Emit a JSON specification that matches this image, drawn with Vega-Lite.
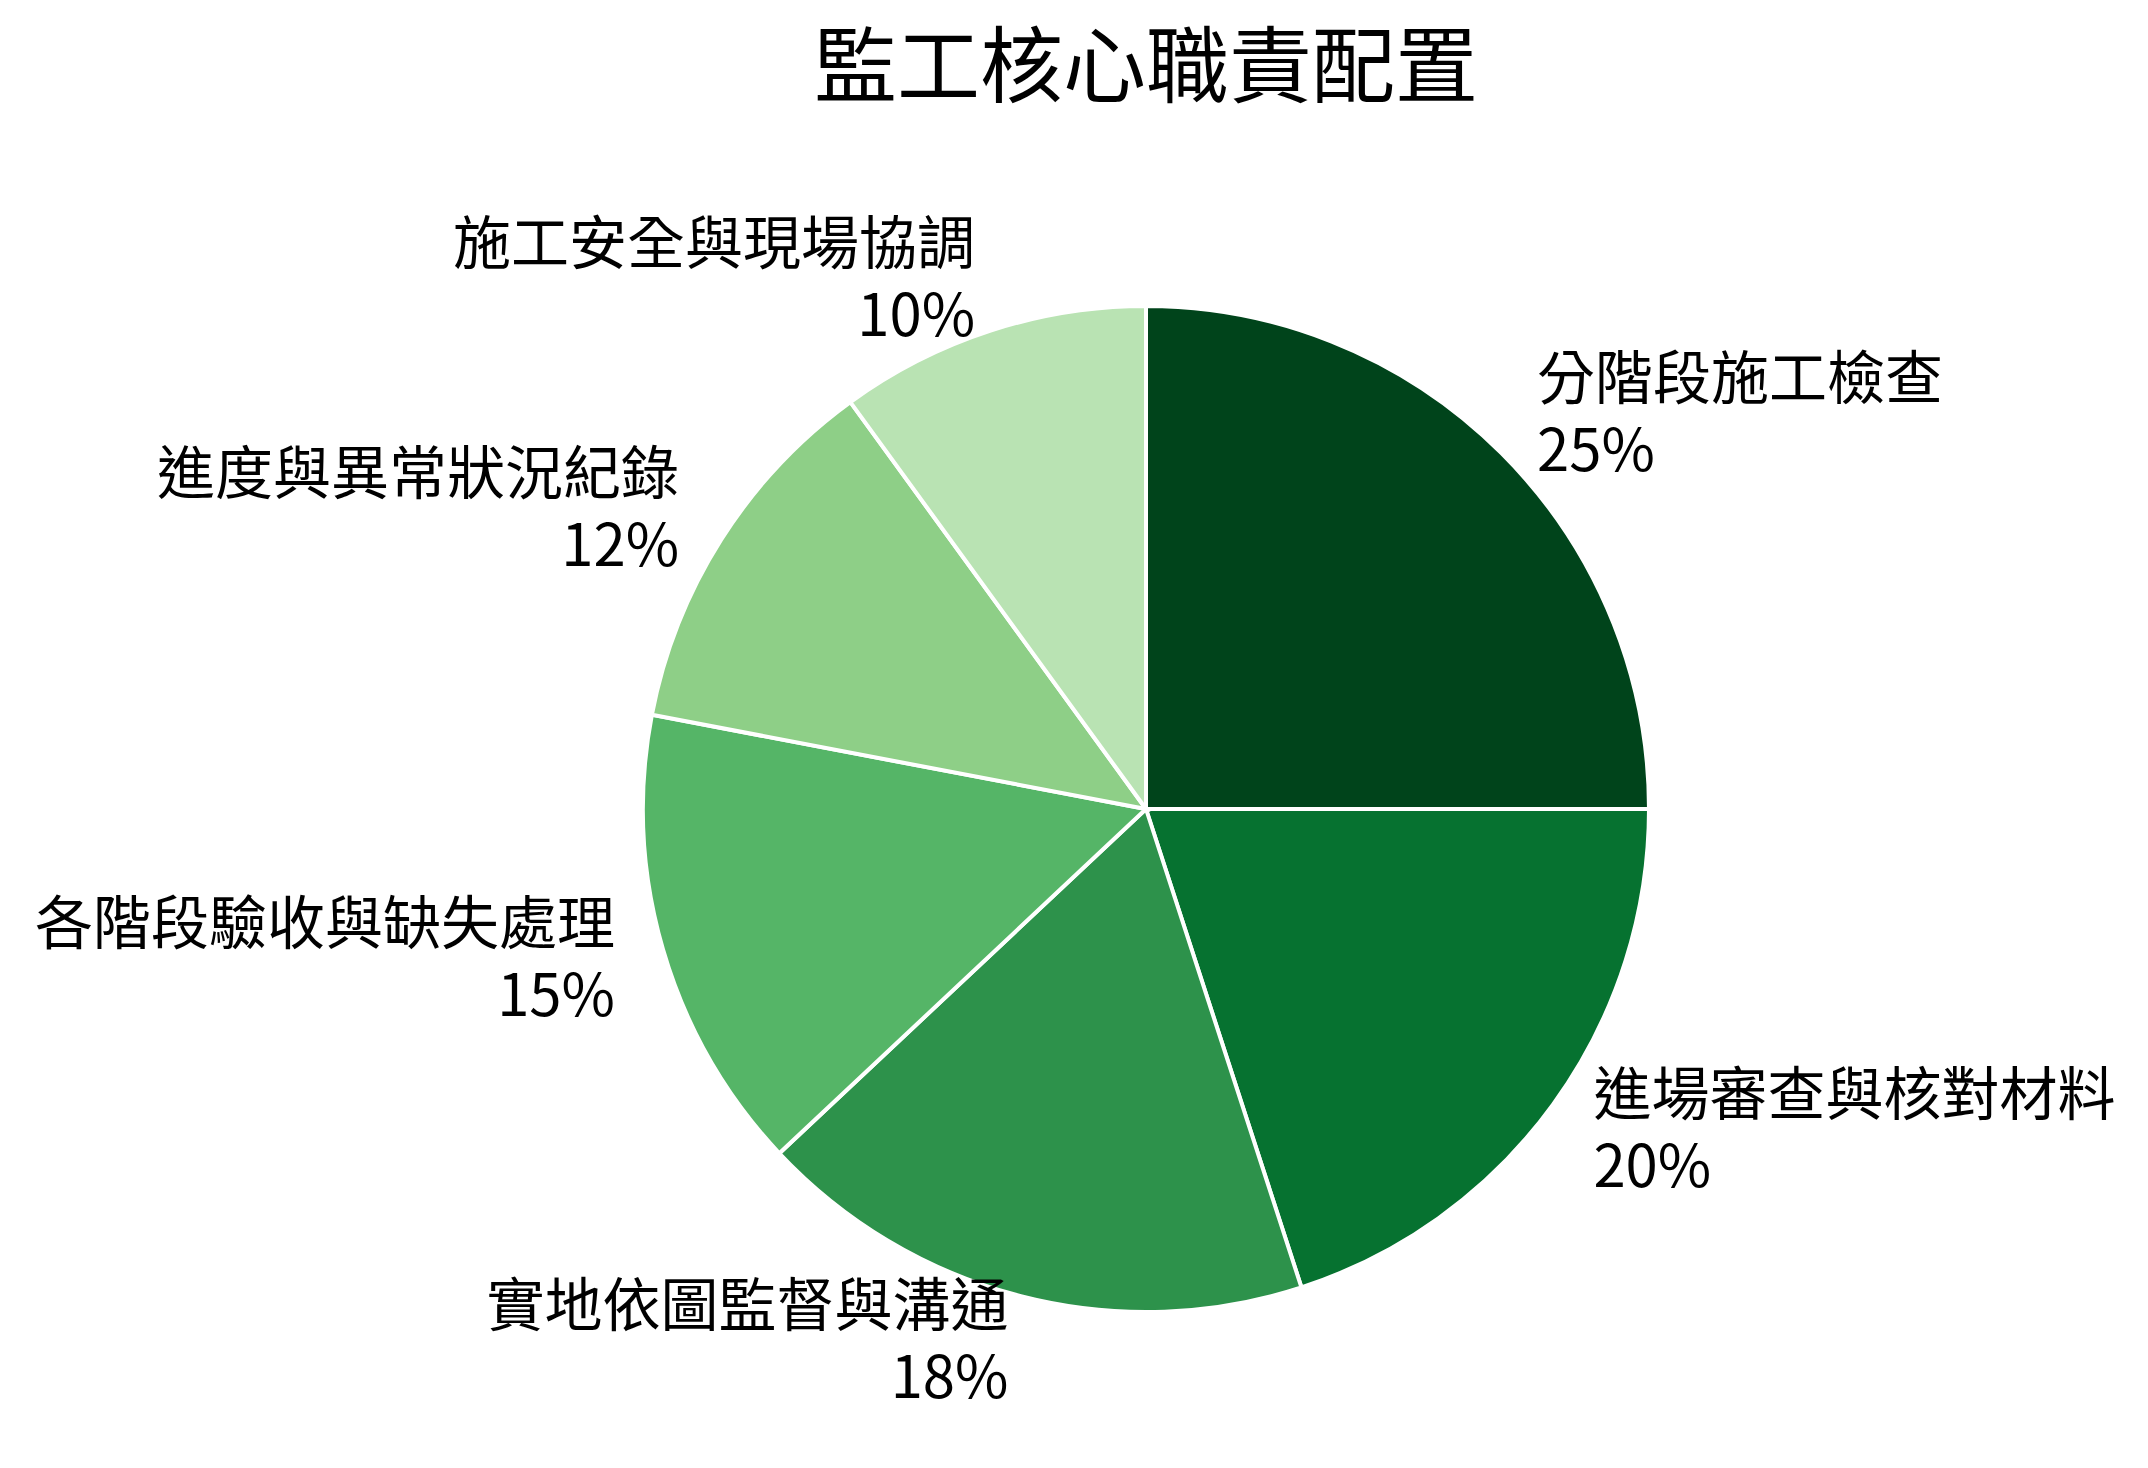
{
  "$schema": "https://vega.github.io/schema/vega-lite/v6.json",
  "width": 1994,
  "height": 1100,
  "autosize": {"type": "none"},
  "padding": {"left": 149, "top": 259, "right": 5, "bottom": 109},
  "background": "white",
  "title": {
    "text": "監工核心職責配置",
    "font": "Noto Sans CJK TC",
    "fontSize": 83,
    "fontWeight": "normal",
    "color": "black",
    "anchor": "middle",
    "frame": "group",
    "offset": 105
  },
  "data": {
    "values": [
      {"rank": 1, "task": "分階段施工檢查", "pct": 25},
      {"rank": 2, "task": "進場審查與核對材料", "pct": 20},
      {"rank": 3, "task": "實地依圖監督與溝通", "pct": 18},
      {"rank": 4, "task": "各階段驗收與缺失處理", "pct": 15},
      {"rank": 5, "task": "進度與異常狀況紀錄", "pct": 12},
      {"rank": 6, "task": "施工安全與現場協調", "pct": 10}
    ]
  },
  "transform": [
    {"stack": "pct", "groupby": [], "sort": [{"field": "rank"}], "as": ["t0", "t1"]},
    {"calculate": "(datum.t0 + datum.t1) / 2", "as": "mid"},
    {"calculate": "datum.task + '\\n' + datum.pct + '%'", "as": "label"}
  ],
  "layer": [
    {
      "mark": {"type": "arc", "radius": 503, "stroke": "white", "strokeWidth": 4},
      "encoding": {
        "theta": {"field": "t0", "type": "quantitative", "scale": {"domain": [0, 100]}, "stack": null},
        "theta2": {"field": "t1"},
        "color": {
          "field": "task",
          "type": "nominal",
          "legend": null,
          "scale": {
            "domain": ["分階段施工檢查", "進場審查與核對材料", "實地依圖監督與溝通", "各階段驗收與缺失處理", "進度與異常狀況紀錄", "施工安全與現場協調"],
            "range": ["#00441b", "#067230", "#2d924b", "#55b567", "#8ecf87", "#b9e3b3"]
          }
        }
      }
    },
    {
      "transform": [{"filter": "datum.mid < 50"}],
      "mark": {"type": "text", "radius": 553, "align": "left", "baseline": "middle", "dy": -36, "lineBreak": "\n", "lineHeight": 72, "font": "Noto Sans CJK TC", "fontSize": 58, "color": "black"},
      "encoding": {
        "theta": {"field": "mid", "type": "quantitative", "scale": {"domain": [0, 100]}, "stack": null},
        "text": {"field": "label"}
      }
    },
    {
      "transform": [{"filter": "datum.mid >= 50"}],
      "mark": {"type": "text", "radius": 553, "align": "right", "baseline": "middle", "dy": -36, "lineBreak": "\n", "lineHeight": 72, "font": "Noto Sans CJK TC", "fontSize": 58, "color": "black"},
      "encoding": {
        "theta": {"field": "mid", "type": "quantitative", "scale": {"domain": [0, 100]}, "stack": null},
        "text": {"field": "label"}
      }
    }
  ]
}
